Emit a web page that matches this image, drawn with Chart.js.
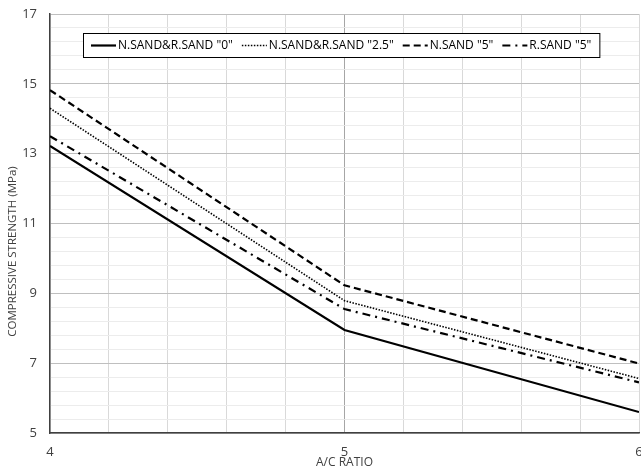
<!DOCTYPE html>
<html>
<head>
<meta charset="utf-8">
<script src="https://cdn.jsdelivr.net/npm/chart.js@4"></script>
<style>
  body { margin: 0; background: #fff; }
  #wrap { width: 641px; height: 470px; }
</style>
</head>
<body>
<div id="wrap"><canvas id="strength-Chart" width="641" height="470"></canvas></div>
<script>
const acRatio = [4, 5, 6];
const sand0 = [13.22, 7.95, 5.6];
const sand25 = [14.3, 8.79, 6.56];
const nSand5 = [14.82, 9.23, 6.99];
const rSand5 = [13.5, 8.55, 6.45];
const seriesLabels = ['N.SAND&R.SAND "0"', 'N.SAND&R.SAND "2.5"', 'N.SAND "5"', 'R.SAND "5"'];
const xTickLabels = [4, 5, 6];
const yTickLabels = [5, 7, 9, 11, 13, 15, 17];
const yTitle = "COMPRESSIVE STRENGTH (MPa)";

const FONT = "'Open Sans', sans-serif";

function pts(values) {
  return acRatio.map((x, i) => ({ x: x, y: values[i] }));
}

const isNear = (v, list) => list.some((t) => Math.abs(v - t) < 1e-6);

// legend drawn inside the plot area, like the original
const innerLegend = {
  id: "innerLegend",
  afterDraw(chart) {
    const c = chart.ctx;
    const area = chart.chartArea;
    const sample = 25;
    const gap = 2;
    const itemGap = 9;
    c.save();
    c.font = "12px " + FONT;
    const items = chart.data.datasets.map((ds) => ({
      ds: ds,
      w: sample + gap + c.measureText(ds.label).width,
    }));
    const boxW = items.reduce((s, it) => s + it.w, 0) + itemGap * (items.length - 1) + 16;
    const x0 = area.left + 33;
    const y0 = area.top + 19;
    const boxH = 24;
    c.fillStyle = "#fff";
    c.fillRect(x0, y0, boxW, boxH);
    c.strokeStyle = "#000";
    c.lineWidth = 1;
    c.strokeRect(x0 + 0.5, y0 + 0.5, boxW, boxH);
    let x = x0 + 8;
    const cy = y0 + boxH / 2 + 0.5;
    items.forEach((it) => {
      c.beginPath();
      c.setLineDash(it.ds.borderDash || []);
      c.lineWidth = it.ds.borderWidth;
      c.strokeStyle = "#000";
      c.moveTo(x, cy);
      c.lineTo(x + sample, cy);
      c.stroke();
      c.setLineDash([]);
      c.fillStyle = "#000";
      c.textBaseline = "middle";
      c.fillText(it.ds.label, x + sample + gap, cy);
      x += it.w + itemGap;
    });

    // y axis title, sits a little below the middle in the original
    c.translate(13, area.top + (area.bottom - area.top) / 2 + 28);
    c.rotate(-Math.PI / 2);
    c.font = "11.5px " + FONT;
    c.fillStyle = "#404040";
    c.textAlign = "center";
    c.textBaseline = "middle";
    c.fillText(yTitle, 0, 0);
    c.restore();
  },
};

document.addEventListener("DOMContentLoaded", () => {
  const ctx = document.getElementById("strength-Chart");
  if (!ctx) {
    console.error("Canvas element not found");
    return;
  }
  new Chart(ctx, {
    type: "line",
    data: {
      datasets: [
        { label: seriesLabels[0], data: pts(sand0), borderColor: "#000", borderWidth: 2.2, borderDash: [] },
        { label: seriesLabels[1], data: pts(sand25), borderColor: "#000", borderWidth: 1.6, borderDash: [1.5, 1.5] },
        { label: seriesLabels[2], data: pts(nSand5), borderColor: "#000", borderWidth: 2.2, borderDash: [7, 4] },
        { label: seriesLabels[3], data: pts(rSand5), borderColor: "#000", borderWidth: 2.2, borderDash: [8, 5, 2, 5] },
      ],
    },
    options: {
      responsive: false,
      animation: false,
      elements: { point: { radius: 0 }, line: { tension: 0 } },
      layout: { padding: { top: 14, right: 2, left: 0, bottom: 0 } },
      plugins: { legend: { display: false }, tooltip: { enabled: false } },
      scales: {
        x: {
          type: "linear",
          min: 4,
          max: 6,
          ticks: {
            stepSize: 0.2,
            autoSkip: false,
            maxRotation: 0,
            color: "#404040",
            padding: 11,
            font: { family: FONT, size: 13 },
            callback: (v) => (isNear(v, xTickLabels) ? String(Math.round(v)) : ""),
          },
          grid: {
            color: (c) => (isNear(c.tick.value, [5]) ? "#a6a6a6" : "#d9d9d9"),
            drawTicks: false,
          },
          border: { color: "#404040", width: 1.5 },
          title: { display: true, text: "A/C RATIO", color: "#404040", padding: { top: -4, bottom: 0 }, font: { family: FONT, size: 12 } },
          afterFit: (s) => { s.height = 37; s.paddingRight = 0; s.paddingLeft = 0; s.paddingTop = 0; s.paddingBottom = 0; },
        },
        y: {
          min: 5,
          max: 17,
          ticks: {
            stepSize: 0.4,
            autoSkip: false,
            color: "#404040",
            padding: 13,
            font: { family: FONT, size: 13 },
            callback: (v) => (isNear(v, yTickLabels) ? String(Math.round(v)) : ""),
          },
          grid: {
            color: (c) => (isNear(c.tick.value, yTickLabels) ? "#bfbfbf" : "#ececec"),
            drawTicks: false,
          },
          border: { color: "#404040", width: 1.5 },
          afterFit: (s) => { s.width = 50; s.paddingTop = 0; s.paddingBottom = 0; s.paddingLeft = 0; s.paddingRight = 0; },
        },
      },
    },
    plugins: [innerLegend],
  });
});
</script>
</body>
</html>
